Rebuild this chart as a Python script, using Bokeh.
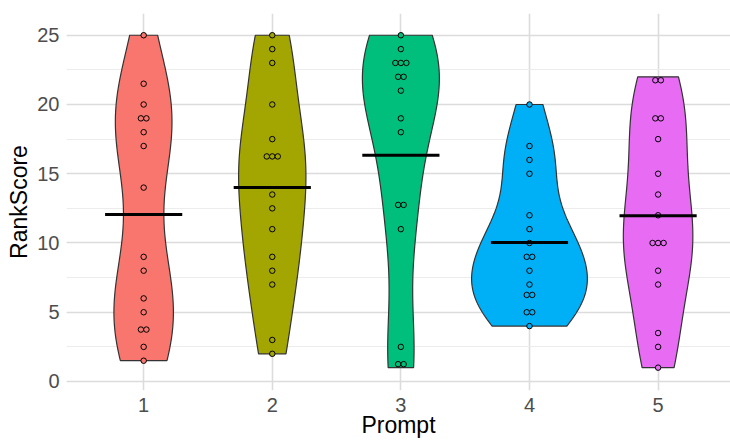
import numpy as np
from bokeh.plotting import figure
from bokeh.models import Range1d, FixedTicker, SingleIntervalTicker
from bokeh.embed import file_html
from bokeh.resources import INLINE

# ---- data ----
prompts = ["1", "2", "3", "4", "5"]
prompt1 = [25, 21.5, 20, 19, 19, 18, 17, 14, 9, 8, 6, 5, 4, 3.5, 2.5, 1.5]
prompt2 = [25, 24, 23, 20, 17.5, 16.5, 16, 16, 13.5, 12.5, 11, 9, 8, 7, 3, 2]
prompt3 = [25, 24, 23, 23, 23, 22, 22, 21, 19, 18, 13, 12.5, 11, 2.5, 1.5, 1]
prompt4 = [20, 17, 16, 15, 12, 11, 10, 9, 9, 8, 7, 6.5, 6, 5, 5, 4]
prompt5 = [22, 21.5, 19, 19, 17.5, 15, 13.5, 12, 10, 10, 10, 8, 7, 3.5, 2.5, 1]
groups = [prompt1, prompt2, prompt3, prompt4, prompt5]
colors = ["#F8766D", "#A3A500", "#00BF7D", "#00B0F6", "#E76BF3"]
y_ticks = [0, 5, 10, 15, 20, 25]
x_title = "Prompt"
y_title = "RankScore"

# ---- layout constants ----
W, H = 730, 440
BL, BR, BT, BB = 66, 0, 13, 50
X0, X1 = 0.4, 5.563
Y0, Y1 = -0.65, 26.57
FW, FH = W - BL - BR, H - BT - BB
px_per_x = FW / (X1 - X0)
DOT_PX = 5.5

p = figure(width=W, height=H, output_backend="svg", toolbar_location=None,
           x_range=Range1d(X0, X1), y_range=Range1d(Y0, Y1),
           min_border_left=BL, min_border_right=BR, min_border_top=BT,
           min_border_bottom=BB, background_fill_color="white",
           border_fill_color="white", outline_line_color=None)

# grids
p.xgrid.ticker = FixedTicker(ticks=[1, 2, 3, 4, 5])
p.xgrid.grid_line_color = "#dcdcdc"
p.xgrid.grid_line_width = 1.6
p.ygrid.ticker = SingleIntervalTicker(interval=5, num_minor_ticks=2)
p.ygrid.grid_line_color = "#dcdcdc"
p.ygrid.grid_line_width = 1.6
p.ygrid.minor_grid_line_color = "#ececec"
p.ygrid.minor_grid_line_width = 1

# axes
p.xaxis.ticker = FixedTicker(ticks=[1, 2, 3, 4, 5])
p.xaxis.major_label_overrides = {i + 1: s for i, s in enumerate(prompts)}
p.yaxis.ticker = FixedTicker(ticks=y_ticks)
for ax in (p.xaxis[0], p.yaxis[0]):
    ax.axis_line_color = None
    ax.major_tick_line_color = None
    ax.minor_tick_line_color = None
    ax.major_tick_out = 0
    ax.minor_tick_out = 0
    ax.major_label_text_font = "Liberation Sans"
    ax.major_label_text_font_size = "20px"
    ax.major_label_text_color = "#4d4d4d"
    ax.axis_label_text_font = "Liberation Sans"
    ax.axis_label_text_font_size = "23px"
    ax.axis_label_text_font_style = "normal"
    ax.axis_label_text_color = "black"
p.xaxis.axis_label = x_title
p.yaxis.axis_label = y_title
p.xaxis.major_label_standoff = 7
p.xaxis.axis_label_standoff = -3
p.yaxis.major_label_standoff = 7
p.yaxis.axis_label_standoff = 2


def kde(vals):
    v = np.asarray(vals, float)
    n = len(v)
    sd = v.std(ddof=1)
    q75, q25 = np.percentile(v, [75, 25])
    lo = min(sd, (q75 - q25) / 1.34)
    bw = 0.9 * lo * n ** (-0.2)
    grid = np.linspace(v.min(), v.max(), 512)
    d = np.exp(-0.5 * ((grid[:, None] - v[None, :]) / bw) ** 2).sum(1)
    d /= (n * bw * np.sqrt(2 * np.pi))
    return grid, d


dens = [kde(g) for g in groups]
maxd = max(d.max() for _, d in dens)

all_vals = np.concatenate([np.asarray(g, float) for g in groups])
binwidth = (all_vals.max() - all_vals.min()) / 30

for i, (g, col) in enumerate(zip(groups, colors)):
    xc = i + 1
    grid, d = dens[i]
    hw = d / maxd * 0.45
    xs = np.concatenate([xc + hw, (xc - hw)[::-1]])
    ys = np.concatenate([grid, grid[::-1]])
    p.patch(xs, ys, fill_color=col, line_color="#333333", line_width=1.2)

    # dotplot binning (dotdensity)
    s = sorted(g)
    bins = []
    j = 0
    while j < len(s):
        start = s[j]
        members = [s[j]]
        j += 1
        while j < len(s) and s[j] < start + binwidth:
            members.append(s[j])
            j += 1
        bins.append(((members[0] + members[-1]) / 2, len(members)))
    dx, dy = [], []
    step = DOT_PX / px_per_x
    for c, n in bins:
        for k in range(n):
            dx.append(xc + (k - (n - 1) / 2) * step)
            dy.append(c)
    p.scatter(dx, dy, size=DOT_PX, fill_color=col, line_color="black",
              line_width=1)

    m = float(np.mean(g))
    p.segment(x0=[xc - 0.3], y0=[m], x1=[xc + 0.3], y1=[m],
              line_color="black", line_width=3)

open("out.html", "w").write(file_html(p, INLINE))
